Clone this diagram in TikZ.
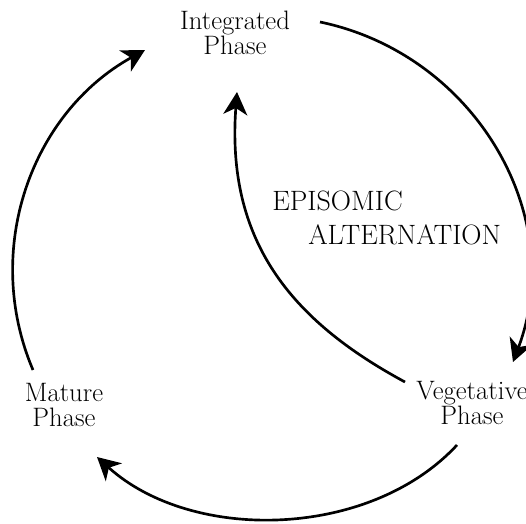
\documentclass[tikz,border=0pt]{standalone}
\usepackage{tikz}
\usetikzlibrary{arrows.meta}

\begin{document}
\begin{tikzpicture}[x=0.75pt,y=0.75pt,yscale=-1,xscale=1,
  phaselabel/.style={inner sep=0pt,align=center,anchor=north,font=\fontsize{20}{18.5}\selectfont},
  cycleline/.style={line width=2pt,-{Stealth[length=17pt,width=18pt,inset=5pt]}}]
%set diagram left start at 0, and has height of 524
\useasboundingbox (0,0) rectangle (526,524);

%Text Nodes
\node [phaselabel] (integ) at (235,11) {Integrated\\Phase};
\node [phaselabel] (mature) at (64,383) {Mature\\Phase};
\node [phaselabel] (veget) at (472,381) {Vegetative\\Phase};
\node [inner sep=0pt,align=left,anchor=north west,font=\fontsize{21}{25.5}\selectfont] (episo) at (272,191) {EPISOMIC\\\hspace*{27pt}ALTERNATION};

%Arc end points
\coordinate (i1) at (320,22);
\coordinate (v1) at (513,362);
\coordinate (v2) at (457,445);
\coordinate (m1) at (97,457);
\coordinate (m2) at (33,370);
\coordinate (i2) at (145,50);
\coordinate (v3) at (405,382);
\coordinate (i3) at (237,92);

%Curve Lines: integrated to vegetative
\draw [cycleline] (i1) .. controls (474,54) and (568.5,214.5) .. (v1) ;
%Curve Lines: vegetative to mature
\draw [cycleline] (v2) .. controls (370,539) and (192,543) .. (m1) ;
%Curve Lines: mature to integrated
\draw [cycleline] (m2) .. controls (-18,250) and (31,113) .. (i2) ;
%Curve Lines: vegetative back to integrated
\draw [cycleline] (v3) .. controls (290,320) and (226,240) .. (i3) ;

\end{tikzpicture}
\end{document}
